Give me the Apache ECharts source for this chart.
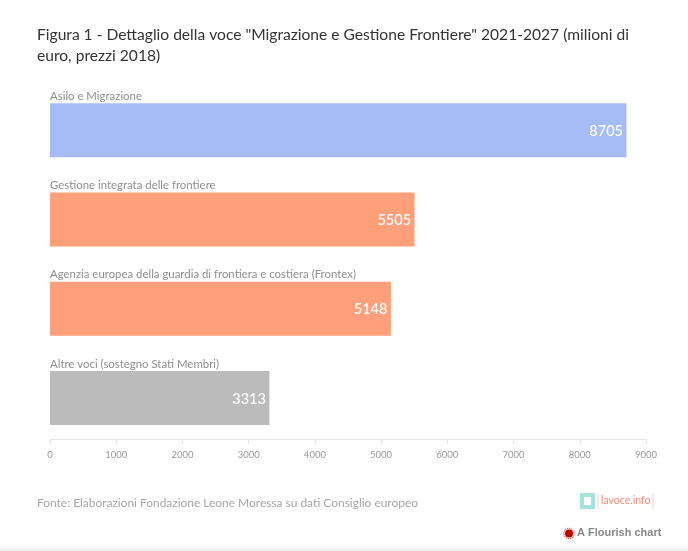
<!DOCTYPE html>
<html><head><meta charset="utf-8">
<style>html,body{margin:0;padding:0;background:#fff}#c{width:688px;height:551px}</style>
<script src="https://cdn.jsdelivr.net/npm/echarts@6/dist/echarts.min.js"></script>
</head><body><div id="c"></div>
<script>
const categories = ["Asilo e Migrazione","Gestione integrata delle frontiere","Agenzia europea della guardia di frontiera e costiera (Frontex)","Altre voci (sostegno Stati Membri)"];
const values = [8705,5505,5148,3313];
const barColors = ["#a6bcf7","#ffa07a","#ffa07a","#bbbbbb"];
const font = "Lato";
const chart = echarts.init(document.getElementById('c'),null,{renderer:'canvas'});
chart.setOption({
  animation:false,
  backgroundColor:'#fff',
  textStyle:{fontFamily:font},
  grid:{left:50,width:596,top:85.5,height:357.2,containLabel:false},
  xAxis:{type:'value',min:0,max:9000,interval:1000,offset:-3.7,
    splitLine:{show:false},
    axisLine:{show:true,lineStyle:{color:'#e6e6e6',width:1}},
    axisTick:{show:true,inside:false,length:5,lineStyle:{color:'#e6e6e6'}},
    axisLabel:{color:'#999',fontSize:9.5,margin:11,fontFamily:font,formatter:v=>String(v)}},
  yAxis:{type:'category',inverse:true,data:categories,
    axisLine:{show:false},axisTick:{show:false},
    axisLabel:{inside:true,margin:0,color:'#8f8f8f',fontSize:11.4,fontFamily:font,align:'left',verticalAlign:'bottom',padding:[0,0,27,0],lineHeight:14}},
  series:[{type:'bar',barWidth:54,z:1,
    data:values.map((v,i)=>({value:v,itemStyle:{color:barColors[i]}})),
    label:{show:true,position:'insideRight',distance:3.5,offset:[0,1],color:'#fff',fontSize:14.5,fontWeight:500,fontFamily:font,formatter:p=>String(p.value)}}],
  graphic:[
    {type:'text',left:37,top:24,style:{text:'Figura 1 - Dettaglio della voce "Migrazione e Gestione Frontiere" 2021-2027 (milioni di\neuro, prezzi 2018)',fill:'#333',font:'15.6px '+font,lineHeight:21.5}},
    {type:'text',left:37,top:497,style:{text:'Fonte: Elaborazioni Fondazione Leone Moressa su dati Consiglio europeo',fill:'#a6a6a6',font:'11.95px '+font}},
    {type:'rect',shape:{x:580,y:493,width:15,height:16},style:{fill:new echarts.graphic.LinearGradient(0,0,1,1,[{offset:0,color:'#a8e6cf'},{offset:1,color:'#a3dfe6'}])}},
    {type:'rect',shape:{x:584,y:497,width:7,height:8},style:{fill:'#fff'}},
    {type:'line',shape:{x1:598,y1:493,x2:598,y2:509},style:{stroke:'#fbd0c4',lineWidth:1}},
    {type:'line',shape:{x1:653,y1:493,x2:653,y2:509},style:{stroke:'#fbd0c4',lineWidth:1}},
    {type:'text',left:601,top:495,style:{text:'lavoce.info',fill:'#f98b78',font:'10.5px '+font}},
    {type:'circle',shape:{cx:569,cy:533.5,r:5.2},style:{fill:'none',stroke:'#e0503f',lineWidth:1.2,lineDash:[1,1]}},
    {type:'circle',shape:{cx:569,cy:533.5,r:4},style:{fill:'#c40000'}},
    {type:'text',left:577,top:527,style:{text:'A Flourish chart',fill:'#888',font:'bold 11px "Liberation Sans"'}},
    {type:'rect',shape:{x:0,y:545,width:688,height:6},style:{fill:new echarts.graphic.LinearGradient(0,0,0,1,[{offset:0,color:'#ffffff'},{offset:1,color:'#eeeeee'}])}}
  ]
});
</script></body></html>
